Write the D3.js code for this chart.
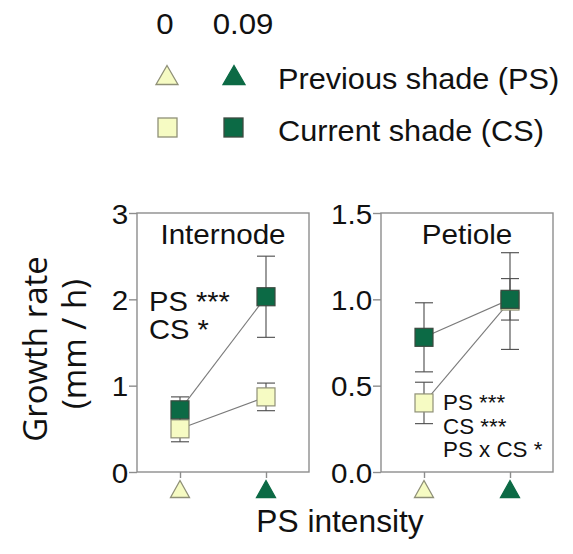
<!DOCTYPE html>
<html>
<head>
<meta charset="utf-8">
<script src="https://cdn.jsdelivr.net/npm/d3@7"></script>
<style>
  html, body { margin: 0; padding: 0; background: #fff; }
  svg text { font-family: "Liberation Sans", Arial, sans-serif; fill: #111; }
</style>
</head>
<body>
<svg id="chart" width="573" height="554"></svg>
<script>
// Previous-shade intensity levels (x positions) and their legend labels
const psLevels = [0, 0.09];
const psLabels = ["0", "0.09"];

// Internode growth rate (mm / h): current shade 0 and 0.09
const internodeCS0 = [0.50, 0.87];
const internodeCS0Err = [0.15, 0.16];
const internodeCS1 = [0.72, 2.03];
const internodeCS1Err = [0.15, 0.47];

// Petiole growth rate (mm / h): current shade 0 and 0.09
const petioleCS0 = [0.40, 0.99];
const petioleCS0Err = [0.12, 0.28];
const petioleCS1 = [0.78, 1.00];
const petioleCS1Err = [0.20, 0.12];

// Axis ticks
const internodeTicks = [0, 1, 2, 3];
const petioleTicks = [0, 0.5, 1.0, 1.5];

// Statistical annotations
const internodeStats = ["PS ***", "CS *"];
const petioleStats = ["PS ***", "CS ***", "PS x CS *"];

const LIGHT = "#f6fbc3";
const DARK = "#0c6a45";
const LIGHT_STROKE = "#8f9077";
const DARK_STROKE = "#3c4a40";
const FRAME = "#8d8d8d";
const SX = 1.04; // slight horizontal text widening

const svg = d3.select("#chart");

function label(g, x, y, s, size, anchor) {
  return g.append("text")
    .attr("transform", `translate(${x},${y}) scale(${SX},1)`)
    .attr("font-size", size)
    .attr("text-anchor", anchor || "start")
    .text(s);
}

function triangle(g, cx, cy, w, h, fill, stroke) {
  const p = [[cx, cy - h / 2], [cx + w / 2, cy + h / 2], [cx - w / 2, cy + h / 2]];
  g.append("path")
    .attr("d", d3.line()(p) + "Z")
    .attr("fill", fill)
    .attr("stroke", stroke)
    .attr("stroke-width", 1.3);
}

// ---- Legend ----
const legend = svg.append("g");
label(legend, 165, 34, psLabels[0], 30, "middle");
label(legend, 243, 34, psLabels[1], 30, "middle");
triangle(legend, 167, 75, 22, 19, LIGHT, LIGHT_STROKE);
triangle(legend, 234, 75, 22, 19, DARK, DARK);
label(legend, 278, 89, "Previous shade (PS)", 29.5);
legend.append("rect").attr("x", 158).attr("y", 118).attr("width", 19).attr("height", 19)
  .attr("fill", LIGHT).attr("stroke", LIGHT_STROKE).attr("stroke-width", 1.3);
legend.append("rect").attr("x", 224).attr("y", 118).attr("width", 19).attr("height", 19)
  .attr("fill", DARK).attr("stroke", DARK_STROKE).attr("stroke-width", 1.3);
label(legend, 278, 141, "Current shade (CS)", 29.5);

// ---- Panels ----
const plotTop = 213, plotBottom = 472, pw = 172;

function panel(left, opts) {
  const g = svg.append("g");
  const x = d3.scaleLinear().domain([-0.5, 1.5]).range([left, left + pw]);
  const y = d3.scaleLinear().domain(opts.domain).range([plotBottom, plotTop]);

  // frame
  g.append("rect").attr("x", left).attr("y", plotTop).attr("width", pw).attr("height", plotBottom - plotTop)
    .attr("fill", "none").attr("stroke", FRAME).attr("stroke-width", 1.4);

  // y axis
  const ya = g.append("g").attr("transform", `translate(${left},0)`)
    .call(d3.axisLeft(y).tickValues(opts.ticks).tickFormat(opts.fmt).tickSize(8).tickPadding(1));
  ya.select(".domain").remove();
  ya.selectAll(".tick line").attr("stroke", FRAME).attr("stroke-width", 1.4);
  ya.selectAll(".tick text")
    .attr("font-family", "Liberation Sans, Arial, sans-serif")
    .attr("font-size", 28.5).attr("fill", "#111")
    .attr("x", -8.5).attr("dy", "0.36em")
    .attr("transform", `scale(${SX},1)`);

  // x axis ticks with PS triangles
  const xa = g.append("g").attr("transform", `translate(0,${plotBottom})`)
    .call(d3.axisBottom(x).tickValues([0, 1]).tickSize(6).tickFormat(""));
  xa.select(".domain").remove();
  xa.selectAll(".tick line").attr("stroke", FRAME).attr("stroke-width", 1.4);
  [0, 1].forEach(i => triangle(g, x(i), 489, 19, 17, i ? DARK : LIGHT, i ? DARK : LIGHT_STROKE));

  // panel title
  label(g, left + pw / 2, 244, opts.title, 28.5, "middle");

  const series = [
    { v: opts.cs0, e: opts.cs0Err, fill: LIGHT, stroke: LIGHT_STROKE },
    { v: opts.cs1, e: opts.cs1Err, fill: DARK, stroke: DARK_STROKE }
  ];
  const line = d3.line().x((d, i) => x(i)).y(d => y(d));

  series.forEach(s => {
    g.append("path").attr("d", line(s.v)).attr("fill", "none")
      .attr("stroke", "#7a7a7a").attr("stroke-width", 1.1);
  });
  series.forEach(s => {
    s.v.forEach((v, i) => {
      const cx = x(i), y1 = y(v + s.e[i]), y0 = y(v - s.e[i]);
      g.append("line").attr("x1", cx).attr("x2", cx).attr("y1", y1).attr("y2", y0)
        .attr("stroke", "#4a4a4a").attr("stroke-width", 1.1);
      [y1, y0].forEach(yy => g.append("line").attr("x1", cx - 9).attr("x2", cx + 9)
        .attr("y1", yy).attr("y2", yy).attr("stroke", "#4a4a4a").attr("stroke-width", 1.1));
    });
  });
  series.forEach(s => {
    s.v.forEach((v, i) => {
      g.append("rect").attr("x", x(i) - 9).attr("y", y(v) - 9).attr("width", 18).attr("height", 18)
        .attr("fill", s.fill).attr("stroke", s.stroke).attr("stroke-width", 1.2);
    });
  });

  opts.stats.forEach((t, i) => label(g, opts.statX, opts.statY + i * opts.statDy, t, opts.statSize));
}

panel(137, {
  domain: [0, 3], ticks: internodeTicks, fmt: d3.format("d"), title: "Internode",
  cs0: internodeCS0, cs0Err: internodeCS0Err, cs1: internodeCS1, cs1Err: internodeCS1Err,
  stats: internodeStats, statX: 149, statY: 311, statDy: 28, statSize: 28
});
panel(381, {
  domain: [0, 1.5], ticks: petioleTicks, fmt: d3.format(".1f"), title: "Petiole",
  cs0: petioleCS0, cs0Err: petioleCS0Err, cs1: petioleCS1, cs1Err: petioleCS1Err,
  stats: petioleStats, statX: 443, statY: 410, statDy: 23.5, statSize: 21.5
});

// ---- Axis titles ----
label(svg, 340, 532, "PS intensity", 30.5, "middle");
svg.append("text").attr("transform", "translate(47,349) rotate(-90)")
  .attr("text-anchor", "middle").attr("font-size", 33)
  .style("font-family", "'Open Sans', sans-serif").text("Growth rate");
svg.append("text").attr("transform", "translate(86,344) rotate(-90)")
  .attr("text-anchor", "middle").attr("font-size", 33)
  .style("font-family", "'Open Sans', sans-serif").text("(mm / h)");
</script>
</body>
</html>
